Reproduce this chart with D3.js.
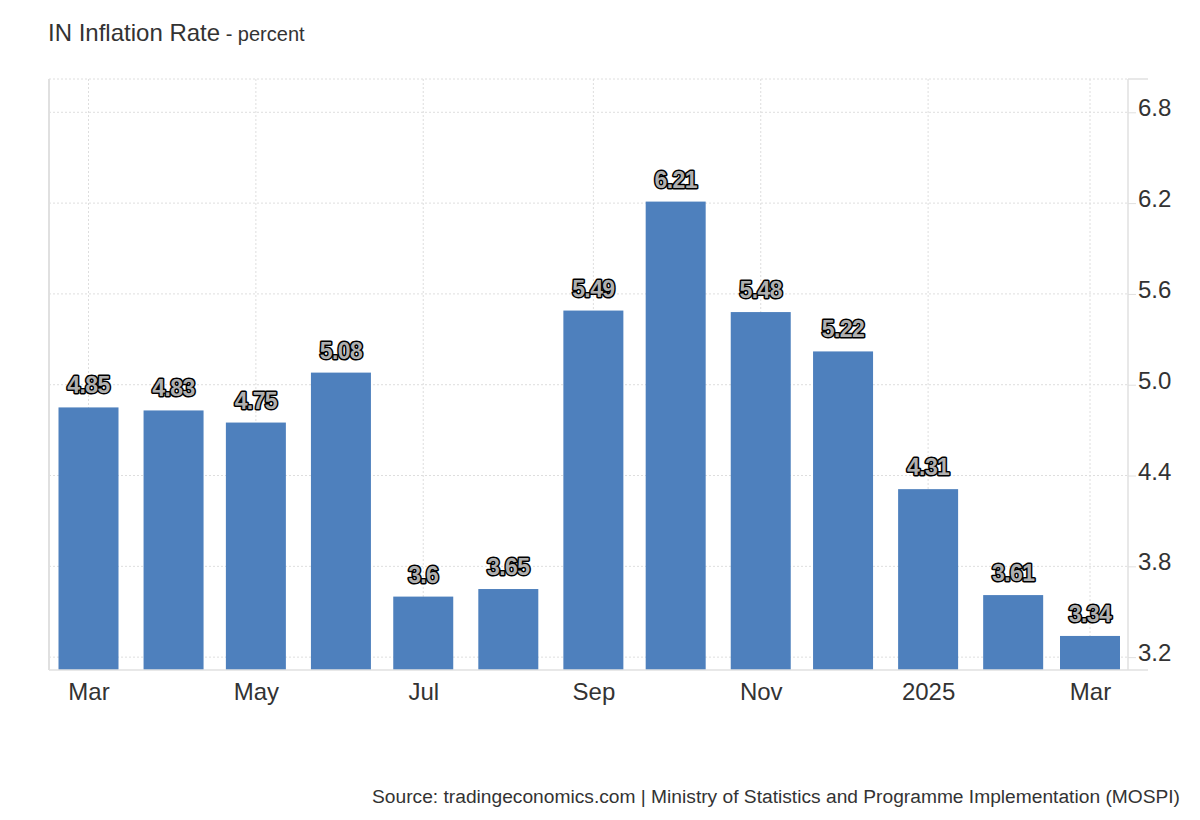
<!DOCTYPE html>
<html>
<head>
<meta charset="utf-8">
<script src="https://cdn.jsdelivr.net/npm/d3@7"></script>
<style>
  body { margin: 0; background: #fff; }
  text { font-family: "Liberation Sans", Arial, sans-serif; }
</style>
</head>
<body>
<div id="chart"></div>
<script>
// data
var months = ["2024-03", "2024-04", "2024-05", "2024-06", "2024-07", "2024-08", "2024-09",
              "2024-10", "2024-11", "2024-12", "2025-01", "2025-02", "2025-03"];
var values = [4.85, 4.83, 4.75, 5.08, 3.6, 3.65, 5.49, 6.21, 5.48, 5.22, 4.31, 3.61, 3.34];
var yTicks = [3.2, 3.8, 4.4, 5.0, 5.6, 6.2, 6.8];
var xTicks = ["2024-03", "2024-05", "2024-07", "2024-09", "2024-11", "2025-01", "2025-03"];

var parse = d3.utcParse("%Y-%m");
var data = months.map(function(m, i) { return { date: parse(m), value: values[i] }; });

var width = 1200, height = 820;
var margin = { top: 79, right: 72, bottom: 150, left: 49 };
var innerW = width - margin.left - margin.right,
    innerH = height - margin.top - margin.bottom;

var svg = d3.select("#chart").append("svg")
    .attr("width", width)
    .attr("height", height);

var g = svg.append("g")
    .attr("transform", "translate(" + margin.left + "," + margin.top + ")");

// first and last month sit half a bar in from the plot edges
var x = d3.scaleUtc()
    .domain([parse(months[0]), parse(months[months.length - 1])])
    .range([39.5, 1041]);

var y = d3.scaleLinear()
    .domain([3.115, 7.02])
    .range([innerH, 0]);

// grid
g.append("g").selectAll("line")
    .data(yTicks)
    .enter().append("line")
    .attr("x1", 0).attr("x2", innerW)
    .attr("y1", function(d) { return y(d); })
    .attr("y2", function(d) { return y(d); })
    .attr("stroke", "#dedede")
    .attr("stroke-dasharray", "2,2");

g.append("line")
    .attr("x1", 0).attr("x2", innerW)
    .attr("y1", 0).attr("y2", 0)
    .attr("stroke", "#dedede")
    .attr("stroke-dasharray", "2,2");

g.append("g").selectAll("line")
    .data(xTicks)
    .enter().append("line")
    .attr("x1", function(d) { return x(parse(d)); })
    .attr("x2", function(d) { return x(parse(d)); })
    .attr("y1", 0).attr("y2", innerH)
    .attr("stroke", "#dedede")
    .attr("stroke-dasharray", "2,2");

// bars
var barW = 60;
g.selectAll(".bar")
    .data(data)
    .enter().append("rect")
    .attr("class", "bar")
    .attr("x", function(d) { return x(d.date) - barW / 2; })
    .attr("y", function(d) { return y(d.value); })
    .attr("width", barW)
    .attr("height", function(d) { return innerH - y(d.value); })
    .attr("fill", "#4e80bd");

// value labels
g.selectAll(".lbl")
    .data(data)
    .enter().append("text")
    .attr("class", "lbl")
    .attr("x", function(d) { return x(d.date); })
    .attr("y", function(d) { return y(d.value) - 14; })
    .attr("text-anchor", "middle")
    .attr("font-size", 23)
    .attr("font-weight", "bold")
    .attr("letter-spacing", "-0.6")
    .attr("fill", "#b0b0b0")
    .attr("stroke", "#000")
    .attr("stroke-width", 3)
    .attr("paint-order", "stroke")
    .attr("stroke-linejoin", "round")
    .text(function(d) { return d.value; });

// axes lines
g.append("line")
    .attr("x1", 0).attr("x2", 0)
    .attr("y1", 0).attr("y2", innerH)
    .attr("stroke", "#e0e0e0").attr("stroke-width", 2);
g.append("line")
    .attr("x1", innerW).attr("x2", innerW)
    .attr("y1", 0).attr("y2", innerH)
    .attr("stroke", "#e0e0e0").attr("stroke-width", 1.5);
g.append("line")
    .attr("x1", 0).attr("x2", innerW + 20)
    .attr("y1", innerH).attr("y2", innerH)
    .attr("stroke", "#e0e0e0").attr("stroke-width", 1.5);
g.append("line")
    .attr("x1", innerW).attr("x2", innerW + 20)
    .attr("y1", 0).attr("y2", 0)
    .attr("stroke", "#e0e0e0").attr("stroke-width", 1.5);

// right y axis
var yAxis = g.append("g")
    .attr("transform", "translate(" + innerW + ",0)")
    .call(d3.axisRight(y).tickValues(yTicks).tickFormat(d3.format(".1f")).tickSize(8).tickPadding(2));
yAxis.select(".domain").remove();
yAxis.selectAll(".tick line").attr("stroke", "#e0e0e0");
yAxis.selectAll(".tick text")
    .attr("font-size", 24)
    .attr("fill", "#333")
    .attr("dy", "0.15em")
    .attr("font-family", "Liberation Sans, Arial, sans-serif");

// bottom x axis
var fmt = function(d) {
    return d.getUTCMonth() === 0 ? d3.utcFormat("%Y")(d) : d3.utcFormat("%b")(d);
};
var xAxis = g.append("g")
    .attr("transform", "translate(0," + innerH + ")")
    .call(d3.axisBottom(x).tickValues(xTicks.map(parse)).tickFormat(fmt).tickSize(0).tickPadding(13));
xAxis.select(".domain").remove();
xAxis.selectAll(".tick text")
    .attr("font-size", 24)
    .attr("fill", "#333")
    .attr("font-family", "Liberation Sans, Arial, sans-serif");

// title
var title = svg.append("text")
    .attr("x", 48)
    .attr("y", 41)
    .attr("fill", "#333");
title.append("tspan").attr("font-size", 24).text("IN Inflation Rate");
title.append("tspan").attr("font-size", 20).text(" - percent");

// source
svg.append("text")
    .attr("x", 1180)
    .attr("y", 803)
    .attr("text-anchor", "end")
    .attr("font-size", 19.2)
    .attr("fill", "#333")
    .text("Source: tradingeconomics.com | Ministry of Statistics and Programme Implementation (MOSPI)");
</script>
</body>
</html>
